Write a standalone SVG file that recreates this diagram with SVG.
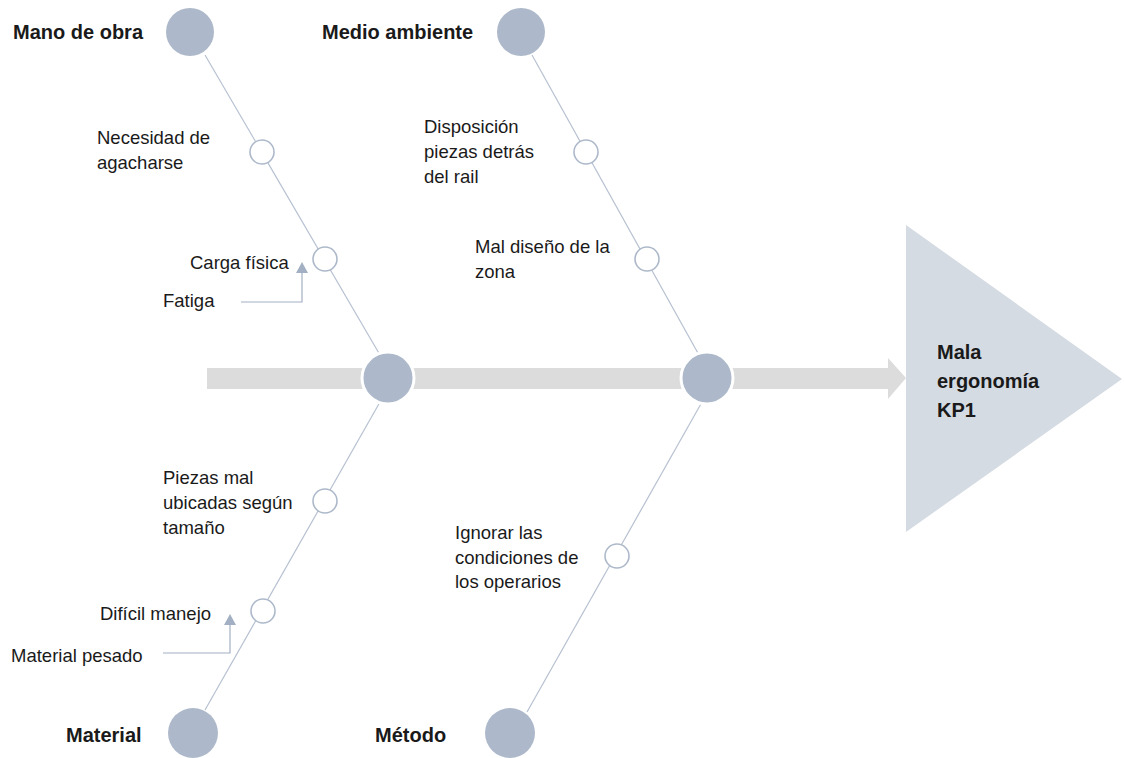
<svg xmlns="http://www.w3.org/2000/svg" width="1124" height="758" viewBox="0 0 1124 758">
<style>
text{font-family:"Liberation Sans",Arial,sans-serif;fill:#1a1a1a}
.t{font-size:18.5px}
.b{font-size:20px;font-weight:bold}
.br{stroke:#b7c1d1;stroke-width:1.2;fill:none}
.big{fill:#adb9ca}
.sm{fill:#fff;stroke:#adb9ca;stroke-width:1.6}
.sp{fill:#adb9ca;stroke:#fff;stroke-width:3}
.ar{stroke:#a3b0c3;stroke-width:1.2;fill:none}
.ah{fill:#a3b0c3}
</style>
<rect x="0" y="0" width="1124" height="758" fill="#fff"/>
<g id="effect">
<polygon points="906,225 1122,379 906,532" fill="#d5dbe3"/>
<text class="b" x="937" y="359">Mala</text>
<text class="b" x="937" y="388">ergonomía</text>
<text class="b" x="937" y="417">KP1</text>
</g>
<g id="connectors">
<rect x="207" y="368" width="681" height="21" fill="#dcdcdc"/>
<polygon points="888,358 906,378 888,399" fill="#dcdcdc"/>
<line class="br" x1="205" y1="55" x2="380" y2="355"/>
<line class="br" x1="532" y1="55" x2="699" y2="355"/>
<line class="br" x1="380" y1="402" x2="205" y2="710"/>
<line class="br" x1="702" y1="402" x2="527" y2="712"/>
<polyline class="ar" points="241,302 302,302 302,272"/>
<polygon class="ah" points="302,262 308,273 296,273"/>
<polyline class="ar" points="163,653 230,653 230,624"/>
<polygon class="ah" points="230,614 236,625 224,625"/>
</g>
<g id="spine-1"><circle class="sp" cx="388" cy="378" r="26"/></g>
<g id="spine-2"><circle class="sp" cx="707" cy="378" r="26"/></g>
<g id="mano-de-obra">
<circle class="big" cx="190" cy="32" r="24"/>
<text class="b" x="13" y="39">Mano de obra</text>
</g>
<g id="medio-ambiente">
<circle class="big" cx="521" cy="32" r="24"/>
<text class="b" x="322" y="39">Medio ambiente</text>
</g>
<g id="material">
<circle class="big" cx="193" cy="733" r="25"/>
<text class="b" x="66" y="742">Material</text>
</g>
<g id="metodo">
<circle class="big" cx="510" cy="733" r="25"/>
<text class="b" x="375" y="742">Método</text>
</g>
<g id="necesidad">
<circle class="sm" cx="262" cy="152" r="12"/>
<text class="t" x="97" y="144">Necesidad de</text>
<text class="t" x="97" y="169">agacharse</text>
</g>
<g id="carga">
<circle class="sm" cx="325" cy="259" r="12"/>
<text class="t" x="190" y="269">Carga física</text>
</g>
<g id="fatiga">
<text class="t" x="163" y="307">Fatiga</text>
</g>
<g id="disposicion">
<circle class="sm" cx="586" cy="152" r="12"/>
<text class="t" x="424" y="133">Disposición</text>
<text class="t" x="424" y="158">piezas detrás</text>
<text class="t" x="424" y="183">del rail</text>
</g>
<g id="mal-diseno">
<circle class="sm" cx="647" cy="259" r="12"/>
<text class="t" x="475" y="253">Mal diseño de la</text>
<text class="t" x="475" y="278">zona</text>
</g>
<g id="piezas">
<circle class="sm" cx="325" cy="501" r="12"/>
<text class="t" x="163" y="484">Piezas mal</text>
<text class="t" x="163" y="509">ubicadas según</text>
<text class="t" x="163" y="534">tamaño</text>
</g>
<g id="dificil">
<circle class="sm" cx="263" cy="611" r="12"/>
<text class="t" x="100" y="620">Difícil manejo</text>
</g>
<g id="material-pesado">
<text class="t" x="11" y="662">Material pesado</text>
</g>
<g id="ignorar">
<circle class="sm" cx="617" cy="556" r="12"/>
<text class="t" x="455" y="539">Ignorar las</text>
<text class="t" x="455" y="564">condiciones de</text>
<text class="t" x="455" y="588">los operarios</text>
</g>
</svg>
